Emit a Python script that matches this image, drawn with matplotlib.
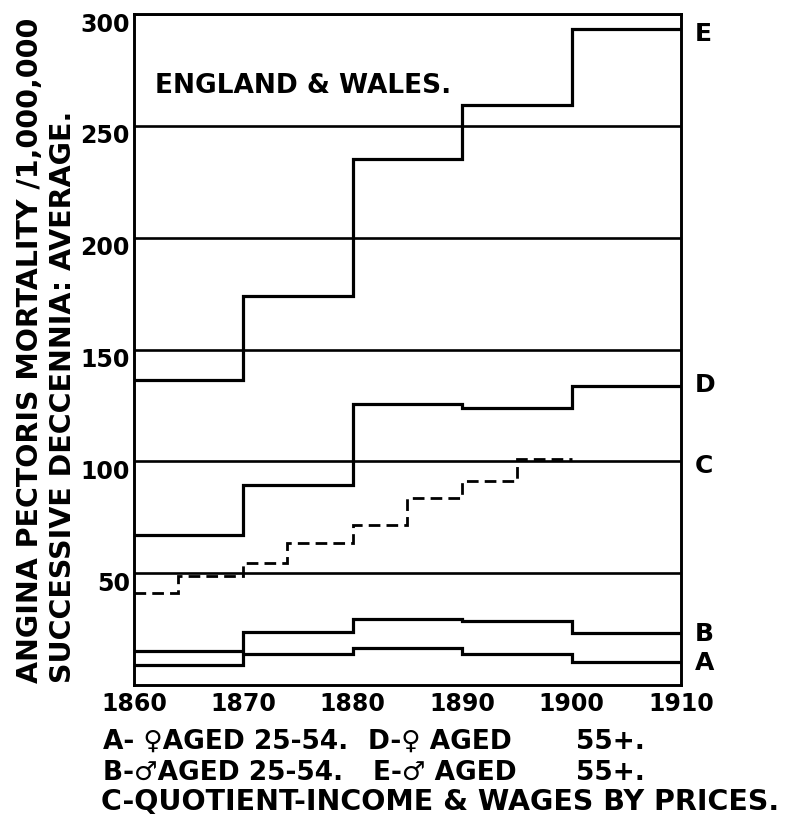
import matplotlib
matplotlib.use('Agg')
import matplotlib.pyplot as plt
from matplotlib.transforms import ScaledTranslation

plt.rcParams['font.family'] = ['DejaVu Sans']
plt.rcParams['font.weight'] = 'bold'

# ---- data ----
decade_edges = [1860, 1870, 1880, 1890, 1900, 1910]
series_A = [8.8, 14.0, 16.6, 13.7, 10.4]      # female 25-54
series_B = [15.4, 23.5, 29.6, 28.8, 23.2]     # male 25-54
series_D = [67.1, 89.3, 125.5, 124.0, 133.8]  # female 55+
series_E = [136.3, 174.0, 235.3, 259.3, 293.3]  # male 55+
c_edges = [1860, 1864, 1870, 1874, 1880, 1885, 1890, 1895, 1900]
series_C = [41.2, 48.7, 54.6, 63.4, 71.4, 83.5, 91.2, 101.0]  # income/prices quotient

y_ticks = [50, 100, 150, 200, 250, 300]
y_tick_labels = ['50', '100', '150', '200', '250', '300']
x_ticks = [1860, 1870, 1880, 1890, 1900, 1910]
x_tick_labels = ['1860', '1870', '1880', '1890', '1900', '1910']

end_labels = ['E', 'D', 'C', 'B', 'A']
end_label_y = [291, 134, 98, 23, 10]

# ---- figure ----
fig = plt.figure(figsize=(7.9, 8.15), dpi=100)
ax = fig.add_axes([134/790, 1-685/815, (681-134)/790, (685-14)/815])

ax.set_xlim(1860, 1910)
ax.set_ylim(0, 300)

for vals in (series_A, series_B, series_D, series_E):
    ax.stairs(vals, decade_edges, baseline=None, color='black', lw=2.3)
ax.stairs(series_C, c_edges, baseline=None, color='black', lw=2.0,
          linestyle=(0, (4.2, 2.2)))

ax.set_yticks(y_ticks)
ax.set_yticklabels(y_tick_labels, fontsize=17)
ax.set_xticks(x_ticks)
ax.set_xticklabels(x_tick_labels, fontsize=17)
ax.yaxis.grid(True, color='black', lw=1.9)
ax.set_axisbelow(True)
ax.tick_params(axis='both', length=0)
ax.tick_params(axis='y', pad=3)
ax.tick_params(axis='x', pad=5)
for lab in ax.get_yticklabels():
    lab.set_transform(lab.get_transform() + ScaledTranslation(0, -0.08, fig.dpi_scale_trans))

for s in ax.spines.values():
    s.set_linewidth(2.1)
    s.set_color('black')

for lab, yv in zip(end_labels, end_label_y):
    ax.text(1911.3, yv, lab, fontsize=18, ha='left', va='center', clip_on=False)

ax.text(1861.9, 268.0, 'ENGLAND & WALES.', fontsize=19, ha='left', va='center')

# y label (two lines)
fig.text(30/790, 1-683/815, 'ANGINA PECTORIS MORTALITY /1,000,000',
         rotation=90, ha='center', va='bottom', fontsize=20.5)
fig.text(63/790, 1-683/815, 'SUCCESSIVE DECCENNIA: AVERAGE.',
         rotation=90, ha='center', va='bottom', fontsize=20.5)

# legend text
row_fs = 19
yA, yB, yC = 1-749/815, 1-780/815, 1-810/815
fig.text(103/790, yA, 'A- \u2640AGED 25-54.', fontsize=row_fs, ha='left', va='baseline')
fig.text(368/790, yA, 'D-\u2640 AGED', fontsize=row_fs, ha='left', va='baseline')
fig.text(645/790, yA, '55+.', fontsize=row_fs, ha='right', va='baseline')
fig.text(103/790, yB, 'B-\u2642AGED 25-54.', fontsize=row_fs, ha='left', va='baseline')
fig.text(373/790, yB, 'E-\u2642 AGED', fontsize=row_fs, ha='left', va='baseline')
fig.text(645/790, yB, '55+.', fontsize=row_fs, ha='right', va='baseline')
fig.text(101/790, yC, 'C-QUOTIENT-INCOME & WAGES BY PRICES.', fontsize=20.5,
         ha='left', va='baseline')

fig.savefig('out.png', dpi=100, facecolor='white')
